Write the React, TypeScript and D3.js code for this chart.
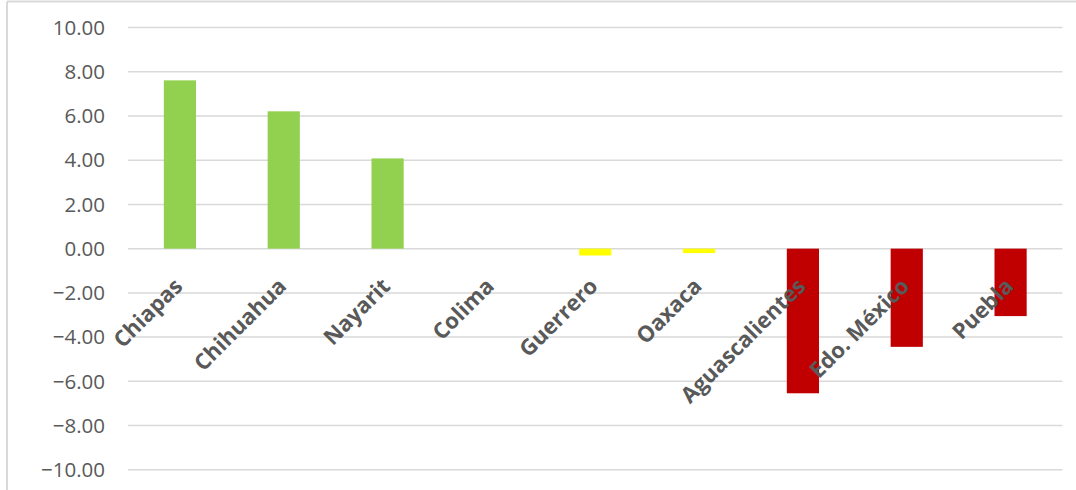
import React from "react";
import * as d3 from "d3";

const categories = ["Chiapas", "Chihuahua", "Nayarit", "Colima", "Guerrero", "Oaxaca", "Aguascalientes", "Edo. México", "Puebla"];
const values = [7.61, 6.21, 4.08, 0, -0.31, -0.2, -6.54, -4.44, -3.05];
const barColors = ["#92d050", "#92d050", "#92d050", "#92d050", "#ffff00", "#ffff00", "#c00000", "#c00000", "#c00000"];
const yTicks = [10, 8, 6, 4, 2, 0, -2, -4, -6, -8, -10];

export default function App() {
  const W = 1076, H = 490;
  const left = 128, right = 1062.5, top = 27.5, bottom = 469.8;
  const x = d3.scaleBand<string>().domain(categories).range([left, right]).paddingInner(0.69).paddingOuter(0.345);
  const y = d3.scaleLinear().domain([-10, 10]).range([bottom, top]);
  const font = "'Open Sans', 'Segoe UI', sans-serif";
  return (
    <svg width={W} height={H} style={{ position: "absolute", left: 0, top: 0, background: "#fff" }}>
      <rect x={0} y={0} width={W} height={H} fill="#fff" />
      <line x1={7} x2={W} y1={1.5} y2={1.5} stroke="#d9d9d9" strokeWidth={2} />
      <line x1={7} x2={7} y1={1.5} y2={H} stroke="#d9d9d9" strokeWidth={2} />
      {yTicks.map((t) => (
        <g key={t}>
          <line x1={left} x2={right} y1={y(t)} y2={y(t)} stroke="#d9d9d9" strokeWidth={1.5} />
          <text x={105} y={y(t)} dy="0.35em" textAnchor="end" fontFamily={font} fontSize={20.5} fill="#595959">
            {d3.format(".2f")(t)}
          </text>
        </g>
      ))}
      {categories.map((c, i) => {
        const v = values[i];
        const y0 = y(0), y1 = y(v);
        return (
          <rect key={c} x={x(c)} y={Math.min(y0, y1)} width={x.bandwidth()} height={Math.abs(y1 - y0)} fill={barColors[i]} />
        );
      })}
      {categories.map((c) => {
        const cx = (x(c) as number) + x.bandwidth() / 2;
        return (
          <text key={c} transform={`translate(${cx + 4},${y(0) + 39}) rotate(-45)`} textAnchor="end" fontFamily={font} fontWeight="bold" fontSize={22} fill="#595959">
            {c}
          </text>
        );
      })}
    </svg>
  );
}
